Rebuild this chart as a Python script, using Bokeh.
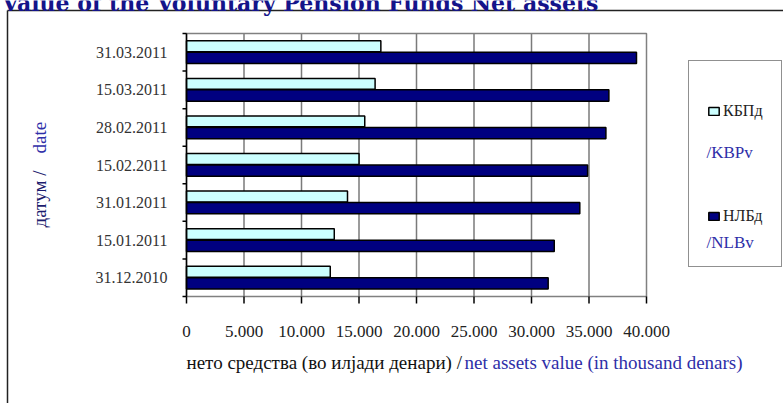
import math
from bokeh.plotting import figure
from bokeh.models import Range1d, Label, Legend, LegendItem
from bokeh.core.properties import value
from bokeh.embed import file_html
from bokeh.resources import INLINE

# ---- data ----
dates = ["31.12.2010", "15.01.2011", "31.01.2011", "15.02.2011",
         "28.02.2011", "15.03.2011", "31.03.2011"]
kbp_values = [12500, 12850, 14000, 15000, 15500, 16400, 16900]
nlb_values = [31450, 31980, 34200, 34880, 36470, 36730, 39130]
x_ticks = [0, 5000, 10000, 15000, 20000, 25000, 30000, 35000, 40000]
x_tick_labels = ["0", "5.000", "10.000", "15.000", "20.000", "25.000",
                 "30.000", "35.000", "40.000"]
series_names = ["КБПд", "НЛБд"]
series_names_latin = ["/KBPv", "/NLBv"]

# ---- layout (pixels of the canvas) ----
W, H = 783, 403
FL, FR, FT, FB = 186, 646, 33, 296          # plot area
XMAX = x_ticks[-1]
NCAT = len(dates)
SERIF = "Liberation Serif"
BLUE = "#2e2ea8"

ux = XMAX / (FR - FL)          # data units per pixel, x
uy = NCAT / (FB - FT)          # data units per pixel, y
X0, X1 = -FL * ux, (W - FL) * ux
Y0, Y1 = -(H - FB) * uy, NCAT + FT * uy

def px(xp):   # canvas pixel -> data x
    return X0 + xp * ux

def py(yp):   # canvas pixel (from top) -> data y
    return Y1 - yp * uy

p = figure(width=W, height=H, output_backend="svg", toolbar_location=None,
           x_range=Range1d(X0, X1), y_range=Range1d(Y0, Y1),
           x_axis_type=None, y_axis_type=None, min_border=0,
           background_fill_color="white", border_fill_color="white")
p.outline_line_color = None
p.grid.visible = False

centers = [i + 0.5 for i in range(NCAT)]

# outer chart border (only its left and top edges are inside the picture)
p.segment(x0=[px(7), px(7)], y0=[py(10), py(10)],
          x1=[px(7), px(W + 10)], y1=[py(H + 10), py(10)],
          line_color="#222222", line_width=1.5)

# grid lines and plot-area frame
p.segment(x0=x_ticks[1:-1], y0=0, x1=x_ticks[1:-1], y1=NCAT,
          line_color="#7a7a7a", line_width=1.5)
p.quad(left=0, right=XMAX, bottom=0, top=NCAT, fill_alpha=0,
       line_color="#808080", line_width=1.5)

# bars
r_kbp = p.hbar(y=[c + 0.16 for c in centers], left=0, right=kbp_values, height=0.29,
               fill_color="#CCFFFF", line_color="black", line_width=1.5)
r_nlb = p.hbar(y=[c - 0.15 for c in centers], left=0, right=nlb_values, height=0.30,
               fill_color="#000080", line_color="black", line_width=1.5)

# value axis (x): ticks and labels
p.segment(x0=x_ticks, y0=0, x1=x_ticks, y1=py(FB + 7), line_color="black", line_width=1.5)
p.text(x=x_ticks, y=[py(331)] * len(x_ticks), text=x_tick_labels,
       text_font=value(SERIF), text_font_size="17px", text_color="#222222",
       text_align="center", text_baseline="middle")

# category axis (y): axis line, boundary ticks, labels
p.segment(x0=0, y0=0, x1=0, y1=NCAT, line_color="black", line_width=1.5)
bounds = list(range(NCAT + 1))
p.segment(x0=px(FL - 4), y0=bounds, x1=0, y1=bounds, line_color="black", line_width=1.5)
p.text(x=[px(167)] * NCAT, y=centers, text=dates,
       text_font=value(SERIF), text_font_size="16px", text_color="#333333",
       text_align="right", text_baseline="middle")

def lab(text, x, y, color, size="19px", font=SERIF, align="left", baseline="middle",
        angle=0.0, style="normal"):
    p.add_layout(Label(x=x, y=y, x_units="canvas", y_units="canvas", text=text,
                       text_color=color, text_font=font, text_font_size=size,
                       text_align=align, text_baseline=baseline, angle=angle,
                       text_font_style=style))

# title (cropped at the top, as in the reference)
lab("Value of the Voluntary Pension Funds Net assets", 598, 2, "#14148a",
    size="22px", font="DejaVu Serif", align="right", style="bold")

# axis titles
lab("нето средства (во илјади денари) /", 186, 362, "#111111")
lab("net assets value (in thousand denars)", 464, 362, BLUE)
lab("датум  /", 39, 227, "#1c1c6e", angle=math.pi / 2)
lab("date", 39, 153, BLUE, angle=math.pi / 2)

# legend
legend = Legend(items=[LegendItem(label=series_names[0], renderers=[r_kbp]),
                       LegendItem(label=series_names[1], renderers=[r_nlb])],
                location=(688, H - 267), orientation="vertical",
                padding=18, margin=0, spacing=41,
                border_line_color="#222222", border_line_width=1.5,
                background_fill_alpha=0, glyph_width=13, glyph_height=10,
                label_height=64, label_standoff=3,
                label_text_font=SERIF, label_text_font_size="16px",
                label_text_color="#222222")
p.add_layout(legend, "center")
lab(series_names_latin[0], 706, 152, BLUE, size="17px")
lab(series_names_latin[1], 706, 242, BLUE, size="17px")

open("out.html", "w").write(file_html(p, INLINE))
